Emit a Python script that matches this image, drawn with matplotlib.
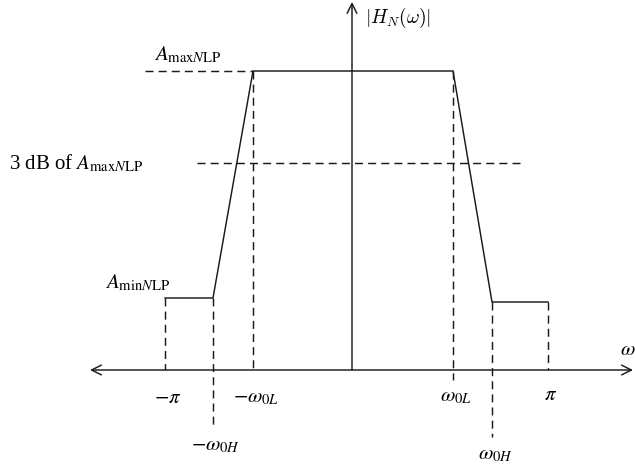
import matplotlib.pyplot as plt

plt.rcParams['mathtext.fontset'] = 'stix'
plt.rcParams['font.family'] = 'Liberation Serif'

# breakpoints of |H_N(w)| (x: frequency, y: magnitude), arbitrary units
w_pi_neg, w_0H_neg, w_0L_neg = -187, -139, -99
w_0L, w_0H, w_pi = 101, 140, 196
a_max = 299
a_3db = 207
a_min_left = 72
a_min_right = 68

curve_w = [w_pi_neg, w_0H_neg, w_0L_neg, w_0L, w_0H, w_pi]
curve_a = [a_min_left, a_min_left, a_max, a_max, a_min_right, a_min_right]

tick_pos = [w_pi_neg, w_0H_neg, w_0L_neg, w_0L, w_0H, w_pi]
tick_labels = [r'$-\pi$', r'$-\omega_{0H}$', r'$-\omega_{0L}$',
               r'$\omega_{0L}$', r'$\omega_{0H}$', r'$\pi$']
tick_drop = [0, -55, 0, -10, -67, 0]   # how far the dashed guide goes below the axis
label_y = [-28, -76, -28, -27, -85, -25]

fig = plt.figure(figsize=(6.35, 4.65), dpi=100)
ax = fig.add_axes([0, 0, 1, 1])
ax.set_xlim(-352, 283)
ax.set_ylim(-95, 370)
ax.axis('off')

col = '#1a1a1a'
lw = 1.05
dash = (0, (5.5, 3.5))

# axes with arrows
ax.annotate('', xy=(-262, 0), xytext=(281, 0),
            arrowprops=dict(arrowstyle='<->,head_length=0.7,head_width=0.35', color=col, lw=lw,
                            shrinkA=0, shrinkB=0))
ax.annotate('', xy=(0, 368), xytext=(0, 0),
            arrowprops=dict(arrowstyle='->,head_length=0.7,head_width=0.35', color=col, lw=lw,
                            shrinkA=0, shrinkB=0))

# response curve
ax.plot(curve_w, curve_a, color=col, lw=lw, solid_joinstyle='miter')

# vertical dashed guides
for x, a, d in zip(curve_w, curve_a, tick_drop):
    ax.plot([x, x], [a, d], color=col, lw=lw, linestyle=dash)

# horizontal dashed guides
ax.plot([-207, w_0L_neg], [a_max, a_max], color=col, lw=lw, linestyle=dash)
ax.plot([-155, 168], [a_3db, a_3db], color=col, lw=lw, linestyle=dash)

fs = 15
for x, s, y in zip(tick_pos, tick_labels, label_y):
    ax.text(x + 3, y, s, fontsize=fs, ha='center', va='center')

ax.text(276, 20, r'$\omega$', fontsize=fs, ha='center', va='center')
ax.text(46, 352, r'$|H_N(\omega)|$', fontsize=14, ha='center', va='center',
        math_fontfamily='cm')
ax.text(-164, 315, r'$A_{\mathrm{max}N\mathrm{LP}}$', fontsize=fs, ha='center', va='center')
ax.text(-209, 207, r'3 dB of $A_{\mathrm{max}N\mathrm{LP}}$', fontsize=fs, ha='right', va='center')
ax.text(-214, 87, r'$A_{\mathrm{min}N\mathrm{LP}}$', fontsize=fs, ha='center', va='center')

fig.savefig('out.png', dpi=100)
